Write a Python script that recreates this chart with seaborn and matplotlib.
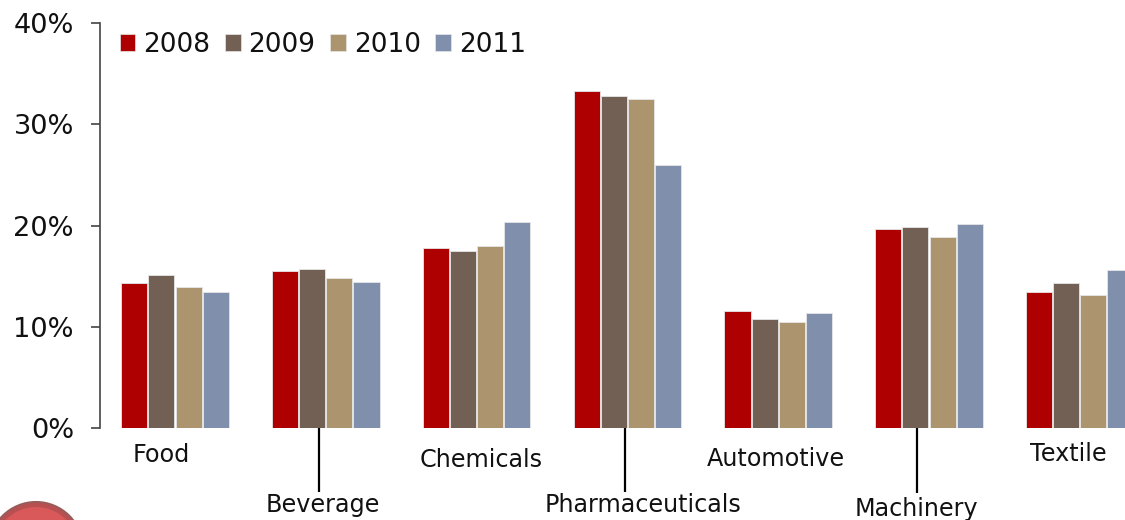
import pandas as pd
import matplotlib
matplotlib.use("Agg")
import matplotlib.pyplot as plt
from matplotlib.patches import Circle, Patch
import seaborn as sns

# Values (percent)
categories = ['Food', 'Beverage', 'Chemicals', 'Pharmaceuticals', 'Automotive', 'Machinery', 'Textile']
years = ['2008', '2009', '2010', '2011']
v2008 = [14.3, 15.5, 17.8, 33.3, 11.6, 19.7, 13.4]
v2009 = [15.1, 15.7, 17.5, 32.8, 10.8, 19.9, 14.3]
v2010 = [13.9, 14.8, 18.0, 32.5, 10.5, 18.9, 13.1]
v2011 = [13.4, 14.4, 20.3, 26.0, 11.4, 20.1, 15.6]
colors = ['#AE0000', '#726055', '#AC946E', '#808FAB']
y_ticks = [0, 10, 20, 30, 40]

df = pd.DataFrame({'category': categories, '2008': v2008, '2009': v2009, '2010': v2010, '2011': v2011})
df = df.melt(id_vars='category', var_name='year', value_name='share')

sns.set_theme(style='white')
plt.rcParams['font.family'] = ['DejaVu Sans']

W, H = 1125, 520
fig = plt.figure(figsize=(W / 100, H / 100), dpi=100)
# the last group runs off the right edge, like the original
ax = fig.add_axes([99.6 / W, (H - 428) / H, 1055.6 / W, 405 / H])

sns.barplot(data=df, x='category', y='share', hue='year', hue_order=years, palette=colors,
            width=0.72, gap=0.04, saturation=1, edgecolor='#E6E6E6', linewidth=0.6, ax=ax)

ax.set_xlim(-0.5, 6.5)
ax.set_ylim(0, 40)
ax.set_xlabel('')
ax.set_ylabel('')
ax.set_yticks(y_ticks)
ax.set_yticklabels([f'{t}%' for t in y_ticks], fontsize=19.6, color='#111111')
ax.tick_params(axis='y', left=True, length=6.5, width=1.2, color='#444444', pad=12)
ax.tick_params(axis='x', bottom=False, labelbottom=False)
sns.despine(ax=ax, bottom=True)
ax.spines['left'].set_color('#444444')
ax.spines['left'].set_linewidth(1.2)

# category labels sit at uneven heights, some with a leader line
def px_x(p):
    return (p - 175) / 150.8

def px_y(p):
    return (428 - p) / 10.125

label_x = [161, 323, 481, 643, 776, 916, 1068]
label_y = [455, 505, 460, 505, 459, 509, 454]
for name, lx, ly in zip(categories, label_x, label_y):
    ax.text(px_x(lx), px_y(ly), name, ha='center', va='center', fontsize=17.2, color='#111111', clip_on=False)

for lx, ly in zip([319, 625, 917], [492, 492, 493]):
    ax.plot([px_x(lx), px_x(lx)], [0, px_y(ly)], color='black', lw=1.6, clip_on=False, solid_capstyle='butt')

handles = [Patch(facecolor=c, edgecolor='#E6E6E6', linewidth=0.5) for c in colors]
ax.legend(handles, years, loc='upper left', bbox_to_anchor=(20 / 1055.6, 0.978), frameon=False, ncol=4,
          fontsize=19, labelcolor='#111111', handlelength=0.6, handleheight=0.6, handletextpad=0.3,
          columnspacing=0.55, borderpad=0, borderaxespad=0)

# red badge cut off at the bottom left
fig.add_artist(Circle((36, -29), 47, transform=None, facecolor='#B85052', edgecolor='#9A5A5A', lw=1.5))
fig.add_artist(Circle((36, -29), 42, transform=None, facecolor='#D9585A', edgecolor='none'))

fig.savefig('out.png', dpi=100)
